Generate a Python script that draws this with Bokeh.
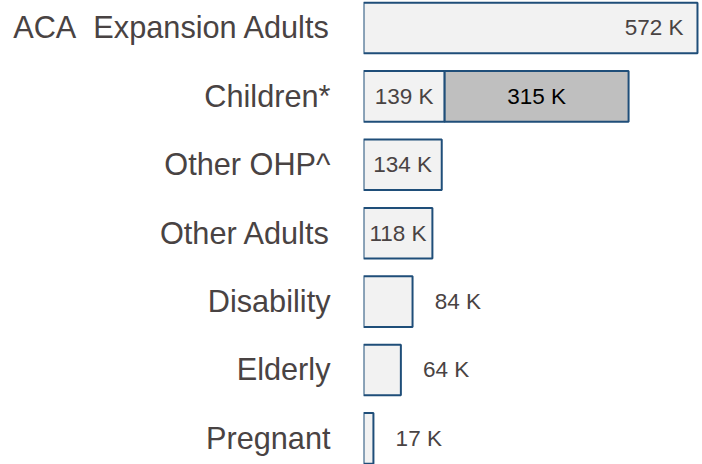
from bokeh.plotting import figure
from bokeh.models import Range1d, FixedTicker, ColumnDataSource
from bokeh.core.properties import value
from bokeh.embed import file_html
from bokeh.resources import INLINE

categories = ["ACA\u00a0 Expansion Adults", "Children*", "Other OHP^", "Other Adults",
              "Disability", "Elderly", "Pregnant"]
base_values = [572, 139, 134, 118, 84, 64, 17]
children_extra = 315  # darker segment stacked on Children*
label_inside = [True, True, True, True, False, False, False]

FONT = "Liberation Sans"
TEXT_COL = "#494343"
FILL = "#f2f2f2"
DARK_FILL = "#bfbfbf"
EDGE = "#1f4e79"

ypos = list(range(len(categories)))

p = figure(width=702, height=464, output_backend="svg", toolbar_location=None,
           x_range=Range1d(0, 580.6), y_range=Range1d(6.382, -0.402),
           min_border_left=363, min_border_right=0, min_border_top=0, min_border_bottom=0)
p.outline_line_color = None
p.grid.visible = False
p.xaxis.visible = False
p.background_fill_color = "white"

H = 0.74
src = ColumnDataSource(dict(y=ypos, right=base_values))
p.hbar(y="y", left=0, right="right", height=H, source=src,
       fill_color=FILL, line_color=EDGE, line_width=2)
p.hbar(y=[1], left=[base_values[1]], right=[base_values[1] + children_extra], height=H,
       fill_color=DARK_FILL, line_color=EDGE, line_width=2)

# value labels
in_x, in_y, in_t, in_align = [], [], [], []
out_x, out_y, out_t = [], [], []
for i, (v, inside) in enumerate(zip(base_values, label_inside)):
    if inside:
        if i == 0:
            in_x.append(v - 24)
            in_align.append("right")
        else:
            in_x.append(v / 2)
            in_align.append("center")
        in_y.append(i)
        in_t.append(f"{v} K")
    else:
        out_x.append(v + 38)
        out_y.append(i)
        out_t.append(f"{v} K")

VFS = "22.5px"
p.text(x=in_x, y=in_y, text=in_t, text_align=in_align, text_baseline="middle",
       text_font_size=VFS, text_color=TEXT_COL, text_font=value(FONT))
p.text(x=out_x, y=out_y, text=out_t, text_align="left", text_baseline="middle",
       text_font_size=VFS, text_color=TEXT_COL, text_font=value(FONT))
p.text(x=[base_values[1] + children_extra / 2], y=[1], text=[f"{children_extra} K"],
       text_align="center", text_baseline="middle",
       text_font_size=VFS, text_color="#000000", text_font=value(FONT))

ax = p.yaxis[0]
ax.ticker = FixedTicker(ticks=ypos)
ax.major_label_overrides = {i: c for i, c in enumerate(categories)}
ax.axis_line_color = None
ax.major_tick_line_color = None
ax.minor_tick_line_color = None
ax.major_tick_out = 0
ax.major_tick_in = 0
ax.major_label_standoff = 33
ax.major_label_text_font = FONT
ax.major_label_text_font_size = "30.7px"
ax.major_label_text_color = TEXT_COL

open("out.html", "w").write(file_html(p, INLINE))
